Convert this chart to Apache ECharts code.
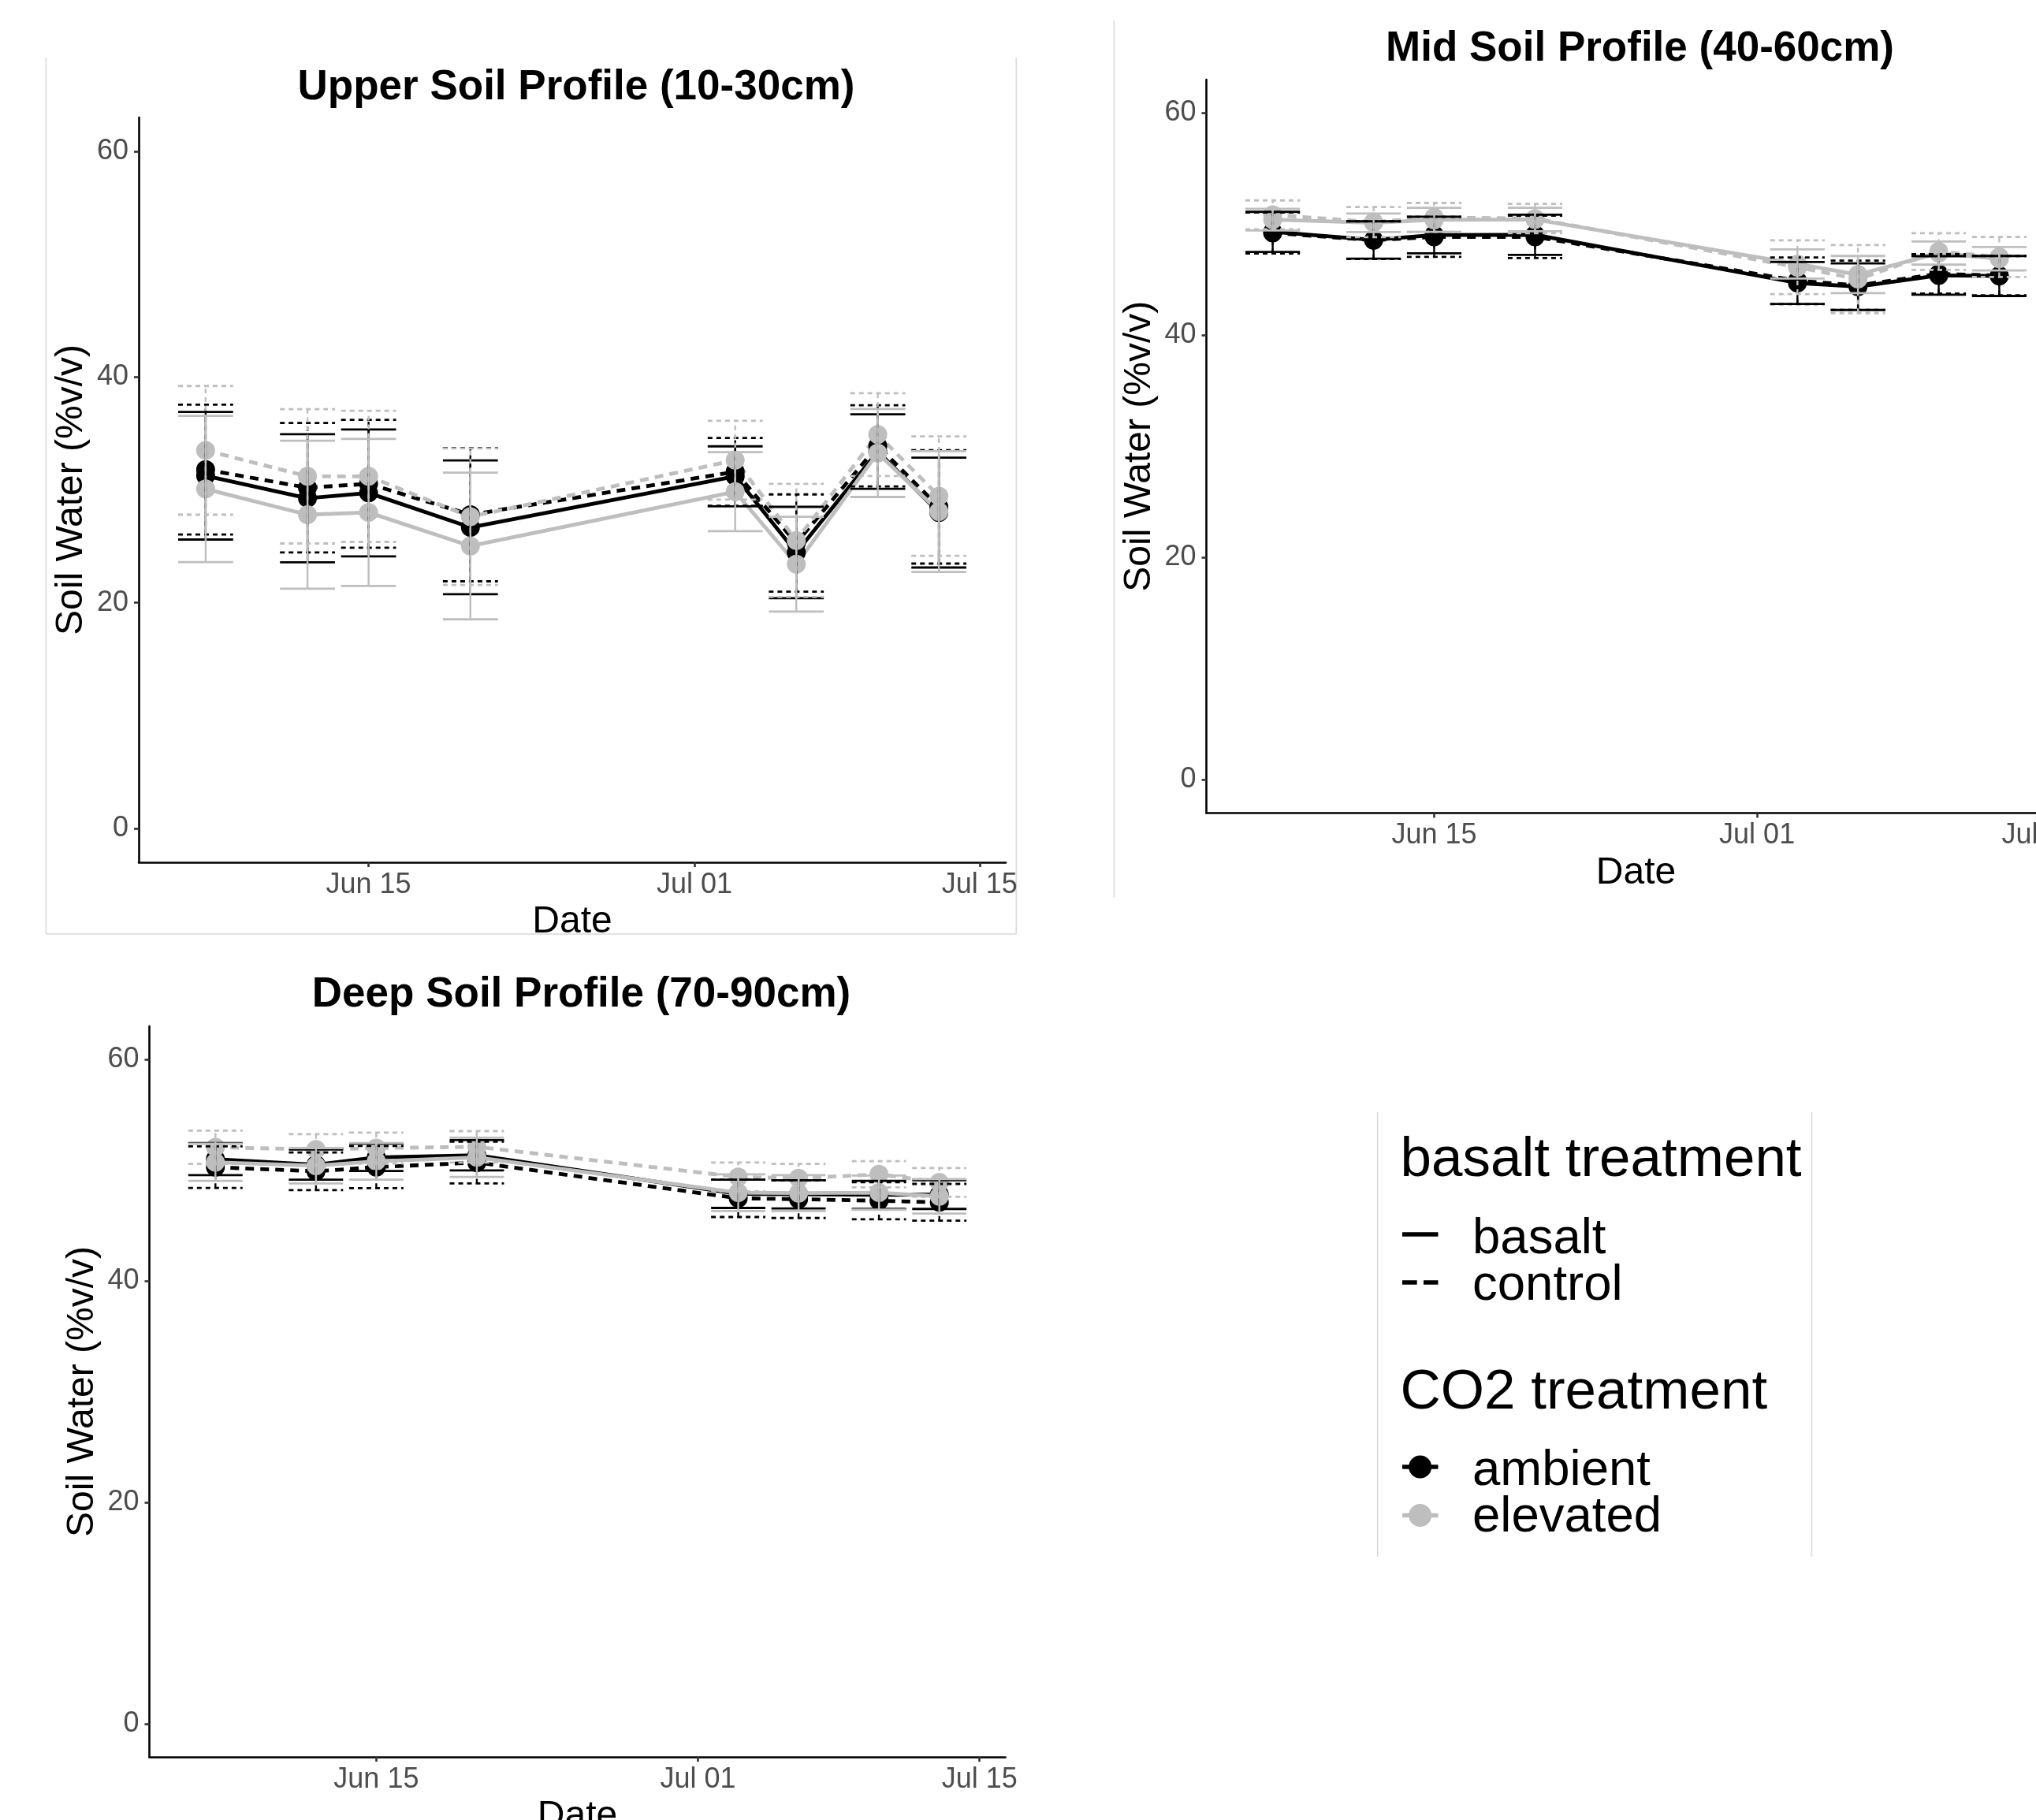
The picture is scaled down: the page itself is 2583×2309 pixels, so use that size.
<!DOCTYPE html>
<html><head><meta charset="utf-8">
<script src="https://cdn.jsdelivr.net/npm/echarts@6/dist/echarts.min.js"></script>
<style>html,body{margin:0;padding:0;background:#fff;}#c{width:2583px;height:2309px;}</style>
</head><body><div id="c"></div>
<script>
// ---------- data ----------
const dates = ['2021-06-07','2021-06-12','2021-06-15','2021-06-20','2021-07-03','2021-07-06','2021-07-10','2021-07-13'];
const tickDates = ['2021-06-15','2021-07-01','2021-07-15'];
const tickLabels = ['Jun 15','Jul 01','Jul 15'];
const yTicks = [0, 20, 40, 60];
const panelTitles = ['Upper Soil Profile (10-30cm)','Mid Soil Profile (40-60cm)','Deep Soil Profile (70-90cm)'];
const basaltLevels = ['basalt','control'];
const co2Levels = ['ambient','elevated'];

// Upper (10-30cm): mean and standard error
const upperBasaltAmbient   = [31.25, 29.26, 29.73, 26.68, 31.2, 24.45, 33.4, 27.99];
const upperBasaltAmbientSE = [5.65, 5.67, 5.62, 5.93, 2.66, 4.05, 3.3, 4.87];
const upperControlAmbient   = [31.8, 30.19, 30.54, 27.8, 31.6, 25.29, 33.9, 28.49];
const upperControlAmbientSE = [5.75, 5.74, 5.67, 5.9, 3.0, 4.31, 3.6, 5.02];
const upperBasaltElevated   = [30.08, 27.8, 28.0, 25.03, 29.84, 23.42, 33.27, 28.08];
const upperBasaltElevatedSE = [6.48, 6.55, 6.51, 6.5, 3.5, 4.2, 3.9, 5.35];
const upperControlElevated   = [33.5, 31.2, 31.2, 27.62, 32.63, 25.52, 34.9, 29.45];
const upperControlElevatedSE = [5.7, 5.95, 5.81, 6.05, 3.49, 5.01, 3.67, 5.29];

// Mid (40-60cm)
const midBasaltAmbient   = [49.3, 48.57, 49.02, 49.04, 44.7, 44.37, 45.38, 45.33];
const midBasaltAmbientSE = [1.8, 1.68, 1.65, 1.81, 1.89, 2.1, 1.73, 1.8];
const midControlAmbient   = [49.2, 48.55, 48.85, 48.85, 44.9, 44.49, 45.52, 45.36];
const midControlAmbientSE = [1.85, 1.7, 1.8, 1.91, 2.1, 2.22, 1.77, 1.77];
const midBasaltElevated   = [50.4, 50.12, 50.38, 50.41, 46.41, 45.46, 47.39, 46.88];
const midBasaltElevatedSE = [0.97, 0.83, 1.08, 1.06, 1.31, 1.67, 1.04, 1.06];
const midControlElevated   = [50.83, 50.18, 50.6, 50.5, 46.12, 45.05, 47.53, 47.04];
const midControlElevatedSE = [1.3, 1.36, 1.3, 1.32, 2.42, 3.07, 1.65, 1.8];

// Deep (70-90cm)
const deepBasaltAmbient   = [51.0, 50.5, 51.16, 51.35, 47.87, 47.82, 47.77, 47.8];
const deepBasaltAmbientSE = [1.45, 1.36, 1.23, 1.37, 1.28, 1.27, 1.27, 1.3];
const deepControlAmbient   = [50.27, 49.9, 50.28, 50.69, 47.46, 47.38, 47.24, 47.1];
const deepControlAmbientSE = [1.88, 1.7, 1.9, 1.89, 1.69, 1.7, 1.68, 1.66];
const deepBasaltElevated   = [50.71, 50.4, 50.8, 51.16, 47.97, 47.93, 47.97, 47.64];
const deepBasaltElevatedSE = [1.68, 1.6, 1.65, 1.77, 1.66, 1.62, 1.54, 1.56];
const deepControlElevated   = [52.07, 51.87, 52.0, 52.11, 49.39, 49.27, 49.63, 48.9];
const deepControlElevatedSE = [1.5, 1.38, 1.4, 1.42, 1.3, 1.3, 1.18, 1.3];

// ---------- helpers ----------
const FONT = "'Liberation Sans', Arial, Helvetica, sans-serif";
const BLACK = '#000000', GREY = '#bebebe';
const EPOCH = Date.UTC(2021, 5, 1);
function dayNum(s) { const p = s.split('-').map(Number); return (Date.UTC(p[0], p[1]-1, p[2]) - EPOCH) / 86400000; }
const xs = dates.map(dayNum);
const tickDays = tickDates.map(dayNum);
const errHalf = 1.35; // error bar half-width in days
const span0 = (xs[xs.length-1] + errHalf) - (xs[0] - errHalf);
const xMin = xs[0] - errHalf - 0.05 * span0;
const xMax = xs[xs.length-1] + errHalf + 0.05 * span0;
const yMin = -3, yMax = 63;

const panels = [
  { title: panelTitles[0], groups: [
    [upperBasaltAmbient, upperBasaltAmbientSE], [upperControlAmbient, upperControlAmbientSE],
    [upperBasaltElevated, upperBasaltElevatedSE], [upperControlElevated, upperControlElevatedSE]],
    grid: { left: 176, top: 149, width: 1100, height: 945 }, titleTop: 80 },
  { title: panelTitles[1], groups: [
    [midBasaltAmbient, midBasaltAmbientSE], [midControlAmbient, midControlAmbientSE],
    [midBasaltElevated, midBasaltElevatedSE], [midControlElevated, midControlElevatedSE]],
    grid: { left: 1530.5, top: 101, width: 1090, height: 930.5 }, titleTop: 31 },
  { title: panelTitles[2], groups: [
    [deepBasaltAmbient, deepBasaltAmbientSE], [deepControlAmbient, deepControlAmbientSE],
    [deepBasaltElevated, deepBasaltElevatedSE], [deepControlElevated, deepControlElevatedSE]],
    grid: { left: 189.5, top: 1302, width: 1086, height: 927 }, titleTop: 1231 }
];
// group order: basalt-ambient, control-ambient, basalt-elevated, control-elevated
const groupStyle = [
  { color: BLACK, dashed: false }, { color: BLACK, dashed: true },
  { color: GREY, dashed: false }, { color: GREY, dashed: true }
];

function errRender(color, dashed) {
  return function (params, api) {
    const x = api.value(0), lo = api.value(1), hi = api.value(2);
    const pLo = api.coord([x, lo]), pHi = api.coord([x, hi]);
    const hw = api.size([errHalf, 0])[0];
    const cap = { stroke: color, lineWidth: 2.8, lineDash: dashed ? [6, 5] : null, fill: null };
    const vert = { stroke: color, lineWidth: 2.4, lineDash: dashed ? [6, 5] : null, fill: null };
    return { type: 'group', children: [
      { type: 'line', shape: { x1: pLo[0], y1: pLo[1], x2: pHi[0], y2: pHi[1] }, style: vert },
      { type: 'line', shape: { x1: pHi[0]-hw, y1: pHi[1], x2: pHi[0]+hw, y2: pHi[1] }, style: cap },
      { type: 'line', shape: { x1: pLo[0]-hw, y1: pLo[1], x2: pLo[0]+hw, y2: pLo[1] }, style: cap }
    ]};
  };
}

const grids = [], xAxes = [], yAxes = [], titles = [], series = [];
panels.forEach((p, i) => {
  grids.push(Object.assign({ containLabel: false, outerBoundsMode: 'none' }, p.grid));
  titles.push({ text: p.title, left: p.grid.left + p.grid.width / 2, top: p.titleTop, textAlign: 'center',
    textStyle: { fontFamily: FONT, fontWeight: 'bold', fontSize: 53, color: '#000' } });
  xAxes.push({ type: 'value', gridIndex: i, min: xMin, max: xMax,
    axisLine: { show: true, onZero: false, lineStyle: { color: '#000', width: 2.6 } },
    axisTick: { show: true, customValues: tickDays, length: 6, lineStyle: { color: '#333', width: 2.6 } },
    axisLabel: { customValues: tickDays, color: '#4d4d4d', fontSize: 36, fontFamily: FONT, margin: 11,
      formatter: v => { const k = tickDays.indexOf(Math.round(v)); return k >= 0 ? tickLabels[k] : ''; } },
    splitLine: { show: false },
    name: 'Date', nameLocation: 'middle', nameGap: 52,
    nameTextStyle: { fontSize: 48, color: '#000', fontFamily: FONT } });
  yAxes.push({ type: 'value', gridIndex: i, min: yMin, max: yMax,
    axisLine: { show: true, onZero: false, lineStyle: { color: '#000', width: 2.6 } },
    axisTick: { show: true, customValues: yTicks, length: 6, lineStyle: { color: '#333', width: 2.6 } },
    axisLabel: { customValues: yTicks, color: '#4d4d4d', fontSize: 36, fontFamily: FONT, margin: 13 },
    splitLine: { show: false },
    name: 'Soil Water (%v/v)', nameLocation: 'middle', nameGap: 61,
    nameTextStyle: { fontSize: 48, color: '#000', fontFamily: FONT } });

  p.groups.forEach((g, j) => {
    const st = groupStyle[j];
    const pts = xs.map((x, k) => [x, g[0][k]]);
    series.push({ type: 'line', xAxisIndex: i, yAxisIndex: i, data: pts, symbol: 'none', z: 2, silent: true,
      lineStyle: { color: st.color, width: 4.8, type: st.dashed ? [11, 8] : 'solid' } });
  });
  p.groups.forEach((g, j) => {
    const st = groupStyle[j];
    series.push({ type: 'scatter', xAxisIndex: i, yAxisIndex: i, z: 3, silent: true,
      data: xs.map((x, k) => [x, g[0][k]]), symbol: 'circle', symbolSize: 24,
      itemStyle: { color: st.color, opacity: 1 } });
  });
  p.groups.forEach((g, j) => {
    const st = groupStyle[j];
    series.push({ type: 'custom', xAxisIndex: i, yAxisIndex: i, z: 4, silent: true,
      renderItem: errRender(st.color, st.dashed), encode: { x: 0, y: [1, 2] },
      data: xs.map((x, k) => [x, g[0][k] - g[1][k], g[0][k] + g[1][k]]) });
  });
});

// ---------- legend + panel frames (graphic) ----------
const frame = { stroke: '#d9d9d9', lineWidth: 1.6 };
const txt = (x, y, s, fs) => ({ type: 'text', x, y, style: { text: s, fontSize: fs, fontFamily: FONT, fill: '#000', align: 'left', verticalAlign: 'middle' } });
const graphic = [
  // upper panel frame
  { type: 'line', shape: { x1: 58.3, y1: 73, x2: 58.3, y2: 1185 }, style: frame },
  { type: 'line', shape: { x1: 1289.3, y1: 73, x2: 1289.3, y2: 1185 }, style: frame },
  { type: 'line', shape: { x1: 58.3, y1: 1185, x2: 1289.3, y2: 1185 }, style: frame },
  // mid panel frame
  { type: 'line', shape: { x1: 1413.3, y1: 26, x2: 1413.3, y2: 1138 }, style: frame },
  // legend frame
  { type: 'line', shape: { x1: 1747.7, y1: 1411, x2: 1747.7, y2: 1975 }, style: frame },
  { type: 'line', shape: { x1: 2298.5, y1: 1411, x2: 2298.5, y2: 1975 }, style: frame },
  txt(1776.5, 1472, 'basalt treatment', 71),
  { type: 'line', shape: { x1: 1779, y1: 1566, x2: 1824.5, y2: 1566 }, style: { stroke: BLACK, lineWidth: 5.5 } },
  txt(1868, 1572, basaltLevels[0], 63.5),
  { type: 'line', shape: { x1: 1779, y1: 1627, x2: 1824.5, y2: 1627 }, style: { stroke: BLACK, lineWidth: 5.5, lineDash: [18.7, 8.3] } },
  txt(1868, 1631, basaltLevels[1], 63.5),
  txt(1776.5, 1767, 'CO2 treatment', 71),
  { type: 'line', shape: { x1: 1779, y1: 1861, x2: 1824.5, y2: 1861 }, style: { stroke: BLACK, lineWidth: 5.5 } },
  { type: 'circle', shape: { cx: 1801.7, cy: 1861, r: 14.5 }, style: { fill: BLACK } },
  txt(1868, 1866, co2Levels[0], 63.5),
  { type: 'line', shape: { x1: 1779, y1: 1922.5, x2: 1824.5, y2: 1922.5 }, style: { stroke: GREY, lineWidth: 5.5 } },
  { type: 'circle', shape: { cx: 1801.7, cy: 1922.5, r: 14.5 }, style: { fill: GREY } },
  txt(1868, 1925.5, co2Levels[1], 63.5)
];

const chart = echarts.init(document.getElementById('c'), null, { renderer: 'canvas' });
chart.setOption({
  backgroundColor: '#ffffff', animation: false,
  title: titles, grid: grids, xAxis: xAxes, yAxis: yAxes, series: series, graphic: graphic
});
</script></body></html>
